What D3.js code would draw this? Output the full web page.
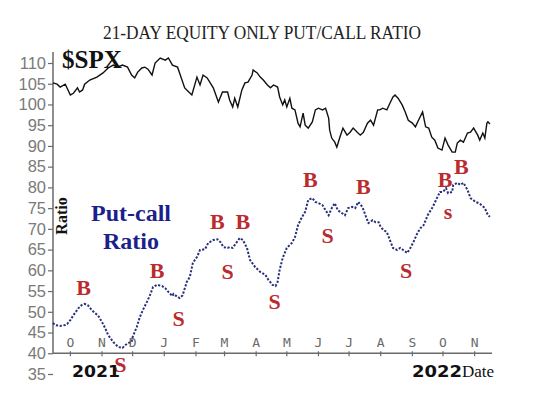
<!DOCTYPE html>
<html>
<head>
<meta charset="utf-8">
<script src="https://cdn.jsdelivr.net/npm/d3@7"></script>
<style>
  html, body { margin: 0; padding: 0; background: #fff; }
  svg { display: block; }
</style>
</head>
<body>
<svg id="chart" width="540" height="404"></svg>
<script>
// ---- DATA ----
const spxDates = ["2021-09-14","2021-09-18","2021-09-21","2021-09-26","2021-10-01","2021-10-04","2021-10-08","2021-10-10","2021-10-13","2021-10-15","2021-10-20","2021-10-27","2021-11-02","2021-11-07","2021-11-12","2021-11-16","2021-11-21","2021-11-26","2021-11-30","2021-12-03","2021-12-06","2021-12-10","2021-12-13","2021-12-16","2021-12-20","2021-12-23","2021-12-28","2022-01-02","2022-01-05","2022-01-09","2022-01-14","2022-01-16","2022-01-21","2022-01-25","2022-01-28","2022-02-02","2022-02-05","2022-02-08","2022-02-12","2022-02-15","2022-02-18","2022-02-23","2022-02-27","2022-03-04","2022-03-06","2022-03-09","2022-03-11","2022-03-14","2022-03-18","2022-03-21","2022-03-24","2022-03-28","2022-03-29","2022-04-02","2022-04-05","2022-04-08","2022-04-12","2022-04-15","2022-04-18","2022-04-22","2022-04-24","2022-04-27","2022-04-29","2022-05-01","2022-05-04","2022-05-06","2022-05-09","2022-05-12","2022-05-14","2022-05-17","2022-05-19","2022-05-22","2022-05-26","2022-05-29","2022-06-01","2022-06-05","2022-06-08","2022-06-11","2022-06-12","2022-06-14","2022-06-17","2022-06-19","2022-06-22","2022-06-25","2022-06-29","2022-07-02","2022-07-05","2022-07-09","2022-07-12","2022-07-15","2022-07-19","2022-07-22","2022-07-25","2022-07-29","2022-07-31","2022-08-03","2022-08-07","2022-08-10","2022-08-13","2022-08-15","2022-08-18","2022-08-22","2022-08-25","2022-08-28","2022-09-01","2022-09-04","2022-09-07","2022-09-11","2022-09-14","2022-09-17","2022-09-20","2022-09-23","2022-09-26","2022-09-30","2022-10-03","2022-10-06","2022-10-10","2022-10-13","2022-10-15","2022-10-18","2022-10-21","2022-10-25","2022-10-28","2022-10-31","2022-11-04","2022-11-06","2022-11-09","2022-11-11","2022-11-13","2022-11-14","2022-11-16"];
const spxValues = [105.2,104.9,104.2,104.9,102.3,102.7,104.0,103.0,103.5,104.9,105.9,106.6,107.6,108.8,109.5,109.0,109.5,109.0,107.1,106.4,107.8,108.8,109.0,108.5,107.1,110.0,111.2,110.7,111.2,109.5,109.0,107.6,104.0,103.0,102.3,106.6,104.7,107.1,106.4,105.2,104.0,100.6,103.0,103.0,101.1,99.4,101.5,99.4,103.5,105.2,105.4,107.1,108.3,107.6,106.6,105.9,104.7,104.0,104.7,104.2,101.8,99.9,101.1,99.4,101.5,99.1,98.7,95.5,94.6,97.9,95.0,94.3,95.8,98.7,99.1,98.7,99.1,96.7,93.8,91.9,90.9,89.7,92.1,94.3,92.6,93.3,94.3,93.3,92.6,93.3,95.5,96.2,95.0,98.7,98.7,99.1,98.7,100.3,101.8,102.3,101.5,99.9,98.2,96.2,95.5,94.6,96.2,98.2,94.6,94.3,92.1,91.4,89.5,89.0,91.9,90.2,88.5,88.5,90.7,91.4,90.9,93.1,93.3,94.3,92.6,91.4,93.1,91.9,95.5,95.8,95.3];

const ratioDates = ["2021-09-14","2021-09-16","2021-09-21","2021-09-26","2021-09-28","2021-10-01","2021-10-04","2021-10-09","2021-10-12","2021-10-15","2021-10-18","2021-10-22","2021-10-25","2021-10-28","2021-11-01","2021-11-04","2021-11-07","2021-11-12","2021-11-17","2021-11-21","2021-11-24","2021-11-27","2021-11-30","2021-12-01","2021-12-05","2021-12-08","2021-12-11","2021-12-15","2021-12-18","2021-12-21","2021-12-25","2021-12-30","2022-01-02","2022-01-05","2022-01-09","2022-01-10","2022-01-14","2022-01-16","2022-01-19","2022-01-23","2022-01-26","2022-01-29","2022-02-02","2022-02-05","2022-02-10","2022-02-13","2022-02-18","2022-02-22","2022-02-25","2022-02-28","2022-03-04","2022-03-06","2022-03-09","2022-03-13","2022-03-16","2022-03-19","2022-03-23","2022-03-26","2022-03-31","2022-04-05","2022-04-10","2022-04-13","2022-04-17","2022-04-20","2022-04-22","2022-04-24","2022-04-27","2022-05-01","2022-05-06","2022-05-09","2022-05-12","2022-05-16","2022-05-19","2022-05-22","2022-05-26","2022-05-29","2022-06-01","2022-06-05","2022-06-08","2022-06-11","2022-06-14","2022-06-17","2022-06-20","2022-06-24","2022-06-27","2022-06-30","2022-07-04","2022-07-07","2022-07-10","2022-07-14","2022-07-17","2022-07-20","2022-07-24","2022-07-27","2022-07-30","2022-08-01","2022-08-04","2022-08-07","2022-08-10","2022-08-13","2022-08-17","2022-08-20","2022-08-23","2022-08-27","2022-08-30","2022-09-02","2022-09-06","2022-09-09","2022-09-12","2022-09-16","2022-09-19","2022-09-21","2022-09-25","2022-09-28","2022-10-01","2022-10-04","2022-10-06","2022-10-10","2022-10-11","2022-10-15","2022-10-18","2022-10-21","2022-10-25","2022-10-28","2022-11-02","2022-11-05","2022-11-08","2022-11-11","2022-11-14","2022-11-16"];
const ratioValues = [47.3,46.8,46.6,46.8,47.1,48.0,49.2,50.9,51.6,51.9,51.6,50.4,49.7,49.2,47.5,46.1,44.4,42.7,41.5,41.3,42.0,42.5,42.7,43.9,46.3,48.7,50.4,52.4,54.0,56.0,56.5,56.2,55.7,54.8,53.8,54.3,53.6,53.3,54.0,57.2,58.4,61.8,63.2,64.9,65.1,66.6,67.3,67.5,66.8,65.6,65.4,65.6,65.4,66.8,67.8,67.3,65.4,62.5,60.8,59.6,58.9,57.7,56.5,56.2,57.2,60.1,63.0,65.4,66.6,68.0,70.9,72.9,74.1,77.0,77.4,76.5,76.2,75.7,74.5,73.3,75.0,76.2,74.5,73.8,73.3,75.0,75.3,75.0,76.5,75.3,73.3,71.4,72.1,71.6,71.6,70.4,69.7,69.2,67.3,65.4,64.9,65.4,64.9,64.2,65.4,66.8,69.0,70.2,70.9,73.3,74.5,75.3,77.4,78.9,78.9,79.8,78.6,78.9,80.6,81.1,80.6,81.1,79.4,77.4,76.5,76.2,75.7,75.0,73.3,72.9];

const signalLabels = ["B","S","B","S","B","S","B","S","B","S","B","S","B","B","s"];
const signalDates  = ["2021-10-14","2021-11-19","2021-12-25","2022-01-15","2022-02-22","2022-03-04","2022-03-19","2022-04-19","2022-05-24","2022-06-10","2022-07-15","2022-08-26","2022-10-03","2022-10-19","2022-10-06"];
const signalValues = [54.0,35.5,58.1,46.6,70.0,57.9,70.0,50.7,80.1,66.6,78.4,58.1,80.1,83.2,72.4];

const yTicks = [35,40,45,50,55,60,65,70,75,80,85,90,95,100,105,110];
const monthTickDates = ["2021-10-01","2021-11-01","2021-12-01","2022-01-01","2022-02-01","2022-03-01","2022-04-01","2022-05-01","2022-06-01","2022-07-01","2022-08-01","2022-09-01","2022-10-01","2022-11-01"];
const monthLabels = ["O","N","D","J","F","M","A","M","J","J","A","S","O","N"];
const xDomain = ["2021-09-14","2022-11-18"];

// ---- CHART ----
const parse = d3.utcParse("%Y-%m-%d");
const svg = d3.select("#chart");

const x = d3.scaleUtc().domain(xDomain.map(parse)).range([53, 492]);
const y = d3.scaleLinear().domain([35, 110]).range([374, 63]);

const axisColor = "#6a6a6a";

// Title
svg.append("text")
  .attr("x", 262).attr("y", 39)
  .attr("text-anchor", "middle")
  .attr("font-family", "Liberation Serif, serif")
  .attr("font-size", 18)
  .attr("textLength", 318).attr("lengthAdjust", "spacingAndGlyphs")
  .attr("fill", "#222")
  .text("21-DAY EQUITY ONLY PUT/CALL RATIO");

// Y axis
const yAxis = d3.axisLeft(y).tickValues(yTicks).tickSize(5).tickPadding(2).tickFormat(d3.format("d"));
const gy = svg.append("g").attr("transform", "translate(53,0)").call(yAxis);
gy.select(".domain").remove();
gy.selectAll(".tick line").attr("stroke", axisColor).attr("stroke-width", 1.2);
gy.selectAll(".tick text")
  .attr("font-family", "Liberation Sans, Arial, sans-serif")
  .attr("font-size", 16.5)
  .attr("fill", "#7a7a7a");
svg.append("line")
  .attr("x1", 53).attr("x2", 53)
  .attr("y1", y(40)).attr("y2", y(110) - 11)
  .attr("stroke", axisColor).attr("stroke-width", 1.5);

// X axis
svg.append("line")
  .attr("x1", 53).attr("x2", 492)
  .attr("y1", y(40)).attr("y2", y(40))
  .attr("stroke", axisColor).attr("stroke-width", 1.5);
const mt = svg.append("g");
monthTickDates.forEach((d, i) => {
  const px = x(parse(d));
  mt.append("line")
    .attr("x1", px).attr("x2", px)
    .attr("y1", y(40) - 2).attr("y2", y(40) + 3)
    .attr("stroke", axisColor).attr("stroke-width", 1.2);
  mt.append("text")
    .attr("x", px).attr("y", y(40) - 6)
    .attr("text-anchor", "middle")
    .attr("font-family", "DejaVu Sans Mono, monospace")
    .attr("font-size", 13)
    .attr("fill", "#6a6a6a")
    .text(monthLabels[i]);
});

// SPX line
const line = d3.line().x(d => x(d[0])).y(d => y(d[1]));
const spxData = spxDates.map((d, i) => [parse(d), spxValues[i]]);
svg.append("path")
  .datum(spxData)
  .attr("d", line)
  .attr("fill", "none")
  .attr("stroke", "#111")
  .attr("stroke-width", 1.4)
  .attr("stroke-linejoin", "miter");

// Ratio line (dotted)
const ratioData = ratioDates.map((d, i) => [parse(d), ratioValues[i]]);
svg.append("path")
  .datum(ratioData)
  .attr("d", line)
  .attr("fill", "none")
  .attr("stroke", "#27307a")
  .attr("stroke-width", 2)
  .attr("stroke-dasharray", "2.2,1.6");

// Signals
signalLabels.forEach((lab, i) => {
  svg.append("text")
    .attr("x", x(parse(signalDates[i])))
    .attr("y", y(signalValues[i]))
    .attr("text-anchor", "middle")
    .attr("font-family", "Liberation Serif, serif")
    .attr("font-weight", "bold")
    .attr("font-size", 22)
    .attr("fill", "#bb2a2e")
    .text(lab);
});

// $SPX label
svg.append("text")
  .attr("x", 62).attr("y", 68)
  .attr("font-family", "Liberation Serif, serif")
  .attr("font-weight", "bold")
  .attr("font-size", 25)
  .attr("fill", "#111")
  .text("$SPX");

// Put-call Ratio label
svg.append("text")
  .attr("x", 131).attr("y", 221)
  .attr("text-anchor", "middle")
  .attr("font-family", "Liberation Serif, serif")
  .attr("font-weight", "bold")
  .attr("font-size", 24)
  .attr("fill", "#1d1f8a")
  .text("Put-call");
svg.append("text")
  .attr("x", 131).attr("y", 249)
  .attr("text-anchor", "middle")
  .attr("font-family", "Liberation Serif, serif")
  .attr("font-weight", "bold")
  .attr("font-size", 24)
  .attr("fill", "#1d1f8a")
  .text("Ratio");

// Vertical axis title
svg.append("text")
  .attr("transform", "translate(67,216) rotate(-90)")
  .attr("text-anchor", "middle")
  .attr("font-family", "Liberation Serif, serif")
  .attr("font-weight", "bold")
  .attr("font-size", 16)
  .attr("fill", "#111")
  .text("Ratio");

// Year labels
svg.append("text")
  .attr("x", 72).attr("y", 377)
  .attr("font-family", "DejaVu Sans, sans-serif")
  .attr("font-weight", "bold")
  .attr("font-size", 15)
  .attr("textLength", 48).attr("lengthAdjust", "spacingAndGlyphs")
  .attr("fill", "#111")
  .text("2021");
svg.append("text")
  .attr("x", 412).attr("y", 377)
  .attr("font-family", "DejaVu Sans, sans-serif")
  .attr("font-weight", "bold")
  .attr("font-size", 15)
  .attr("textLength", 50).attr("lengthAdjust", "spacingAndGlyphs")
  .attr("fill", "#111")
  .text("2022");
svg.append("text")
  .attr("x", 462).attr("y", 377)
  .attr("font-family", "Liberation Serif, serif")
  .attr("font-size", 17)
  .attr("fill", "#111")
  .text("Date");
</script>
</body>
</html>
